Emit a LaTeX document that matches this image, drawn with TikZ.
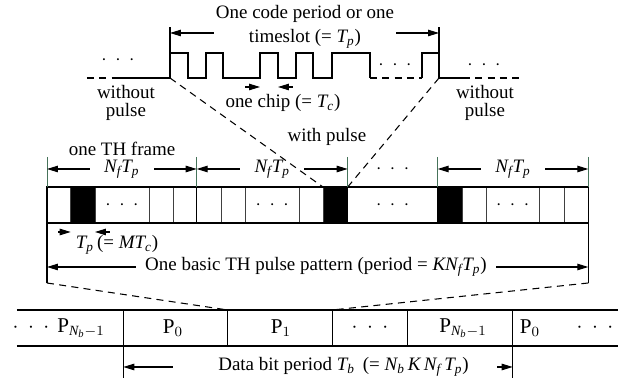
\documentclass[tikz,border=0pt]{standalone}
\usepackage{fontspec}
\setmainfont{Liberation Serif}
\usetikzlibrary{arrows.meta}
\usetikzlibrary{positioning}
\definecolor{tickgreen}{RGB}{70,115,90}
\newcommand{\tdots}{$\cdot$\hspace{0.45em}$\cdot$\hspace{0.45em}$\cdot$}

\begin{document}
\begin{tikzpicture}[x=0.02cm,y=-0.02cm,
            line width=0.6pt,
            font=\fontsize{10.8}{12}\selectfont,
            >={Triangle[length=2.2mm,width=1.3mm]},
            tick/.style = {draw=tickgreen,line width=0.5pt},
            cut/.style = {dash pattern=on 4pt off 3pt},
            cell/.style = {draw=black!75,line width=0.5pt},
            dimlbl/.style = {inner ysep=1pt,inner xsep=8pt},
            lbl/.style = {inner sep=1pt,align=center},
            pl/.style = {font=\fontsize{12}{13}\selectfont}]
    \useasboundingbox (0,0) rectangle (627,381);
    % one code period
    \coordinate (wl) at (170,78);
    \coordinate (wr) at (439,78);
    \draw[cut] (87,78) -- (113,78);
    \draw (113,78) -- (wl) -- (170,53) -- (188,53) -- (188,78) -- (206,78) -- (206,53) -- (223,53)
        -- (223,78) -- (260,78) -- (260,53) -- (278,53) -- (278,78) -- (296,78) -- (296,53)
        -- (313,53) -- (313,78) -- (332,78) -- (332,53) -- (370,53) -- (370,78);
    \draw[cut] (370,78) -- (422,78);
    \draw (422,78) -- (422,53) -- (439,53) -- (wr) -- (463,78);
    \draw[cut] (463,78) -- (522,78);
    \draw (wl) -- (170,27) (wr) -- (439,27);
    \coordinate (cl) at (170,33);
    \coordinate (cr) at (439,33);
    \node[lbl,font=\fontsize{10.8}{13.4}\selectfont] (code) at (305,27)
        {One code period or one\\timeslot (= $\mathit{T_p}$)};
    \draw[->] (code.west|-cl) -- (cl);
    \draw[->] (code.east|-cr) -- (cr);
    \coordinate (c1) at (260,87);
    \coordinate (c2) at (278,87);
    \draw[<-] (c1) -- +(-15,0);
    \draw[<-] (c2) -- +(15,0);
    \node (chip) at (283,103) {one chip (= $\mathit{T_c}$)};
    \node[lbl,font=\fontsize{10.8}{10.4}\selectfont] (wop1) at (126,103) {without\\pulse};
    \node[lbl,font=\fontsize{10.8}{10.4}\selectfont] (wop2) at (485,103) {without\\pulse};
    \node (d1) at (118,60) {\tdots};
    \node (d2) at (395,65) {\tdots};
    \node (d3) at (484,65) {\tdots};
    % TH frames
    \coordinate (p2l) at (323,187);
    \coordinate (p2r) at (347.7,187);
    \draw[cut] (wl) -- (p2l);
    \draw[cut] (wr) -- (p2r);
    \node (wp) at (327,137) {with pulse};
    \foreach \a/\b in {70.7/95,323/347.7,437.7/462.7}
        \fill (\a,187) rectangle (\b,223);
    \foreach \x in {70.7,95,149,173,221.7,245.7,299,323,462.7,486,539.3,564.3}
        \draw[cell] (\x,187) -- (\x,223);
    \draw (47,187) rectangle (588.3,223);
    \foreach \x in {196.7,347.7,437.7}
        \draw (\x,187) -- (\x,223);
    \foreach \x [count=\i] in {122,272.3,392.7,512.7}
        \node (bd\i) at (\x,205) {\tdots};
    \foreach \x in {47,196.7,347.7,437.7,588.3}
        \draw[tick] (\x,157) -- (\x,187);
    \foreach \a/\b [count=\i] in {47/196.7,196.7/347.7,437.7/588.3} {
        \node[dimlbl] (nf\i) at ({(\a+\b)/2},169) {$\mathit{N_fT_p}$};
        \draw[->] (nf\i.west) -- (\a,169);
        \draw[->] (nf\i.east) -- (\b,169);
    }
    \node (md) at (392.7,169) {\tdots};
    \node (thf) at (122,149) {one TH frame};
    \coordinate (tp1) at (70.7,232);
    \coordinate (tp2) at (95,232);
    \draw[<-] (tp1) -- +(-13,0);
    \draw[<-] (tp2) -- +(15,0);
    \node (tp) at (117,245) {$\mathit{T_p}$\,(= $\mathit{MT_c}$)};
    % basic pattern
    \coordinate (ol) at (47,283);
    \coordinate (or) at (588.3,283);
    \draw (47,223) -- (ol);
    \draw (588.3,223) -- (or);
    \node[lbl,inner xsep=5pt] (basic) at (316,267)
        {One basic TH pulse pattern (period = $\mathit{KN_fT_p}$)};
    \draw[->] (basic.west) -- (basic.west-|ol);
    \draw[->] (basic.east) -- (basic.east-|or);
    \coordinate (q1) at (227.7,310);
    \coordinate (q2) at (332.3,310);
    \draw[cut] (ol) -- (q1);
    \draw[cut] (or) -- (q2);
    % data bits
    \draw (17,310) -- (618,310) (17,346) -- (618,346);
    \foreach \x in {123.3,227.7,332.3,407.7,512.7}
        \draw[line width=0.9pt] (\x,310) -- (\x,346);
    \node[pl] (e1) at (31,328) {\tdots};
    \node[pl] (e2) at (81,328) {P$_{\mathit{N_b}-1}$};
    \node[pl] (e3) at (173,328) {P$_0$};
    \node[pl] (e4) at (281,328) {P$_1$};
    \node[pl] (e5) at (370,328) {\tdots};
    \node[pl] (e6) at (463,328) {P$_{\mathit{N_b}-1}$};
    \node[pl] (e7) at (530,328) {P$_0$};
    \node[pl] (e8) at (595,328) {\tdots};
    \coordinate (bl) at (123.3,367);
    \coordinate (br) at (512.7,367);
    \draw (123.3,346) -- (123.3,378);
    \draw (512.7,346) -- (512.7,378);
    \node (dbit) at (343.5,367)
        {Data bit period $\mathit{T_b}$\ \,(= $\mathit{N_b\,K\,N_f\,T_p}$)};
    \draw[<-] (bl) -- +(50,0);
    \draw[<-] (br) -- +(-16,0);
\end{tikzpicture}
\end{document}
